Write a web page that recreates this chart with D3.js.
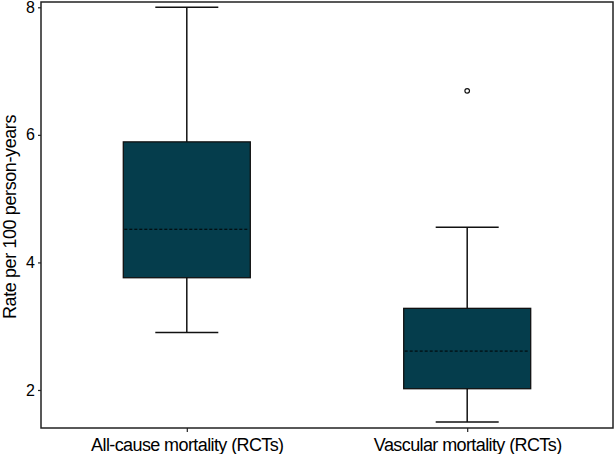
<!DOCTYPE html>
<style>
body { margin: 0; background: #fff; }
svg { font-family: "Liberation Sans", Arial, sans-serif; }
</style>
<svg width="615" height="454"></svg>
<script src="https://d3js.org/d3.v7.min.js"></script>
<script>

// data
var categories = ["All-cause mortality (RCTs)", "Vascular mortality (RCTs)"];
var whiskerLow  = [2.90, 1.50];
var quart1      = [3.76, 2.02];
var medians     = [4.52, 2.61];
var quart3      = [5.89, 3.28];
var whiskerHigh = [8.00, 4.55];
var outliers    = [[], [6.69]];
var yTicks      = [2, 4, 6, 8];

var svg = d3.select("svg"),
    plotLeft = 41, plotRight = 613, plotTop = 2, plotBottom = 428;

var x = d3.scalePoint()
    .domain(categories)
    .range([plotLeft, plotRight])
    .padding(0.52);

var y = d3.scaleLinear()
    .domain([1.404, 8.083])
    .range([plotBottom, plotTop]);

var boxW = 127, capW = 63;

var boxes = categories.map(function(c, i) {
  return { cat: c, lo: whiskerLow[i], q1: quart1[i], med: medians[i], q3: quart3[i], hi: whiskerHigh[i], out: outliers[i] };
});

var g = svg.selectAll("g.box")
  .data(boxes)
  .enter().append("g")
    .attr("class", "box")
    .attr("transform", function(d) { return "translate(" + x(d.cat) + ",0)"; });

// whisker stems
g.append("line")
    .attr("x1", 0).attr("x2", 0)
    .attr("y1", function(d) { return y(d.hi); })
    .attr("y2", function(d) { return y(d.lo); })
    .attr("stroke", "#111").attr("stroke-width", 1.5);

// caps
g.selectAll("line.cap")
  .data(function(d) { return [d.lo, d.hi]; })
  .enter().append("line")
    .attr("class", "cap")
    .attr("x1", -capW / 2).attr("x2", capW / 2)
    .attr("y1", function(v) { return y(v); })
    .attr("y2", function(v) { return y(v); })
    .attr("stroke", "#111").attr("stroke-width", 1.5);

g.append("rect")
    .attr("x", -boxW / 2)
    .attr("width", boxW)
    .attr("y", function(d) { return y(d.q3); })
    .attr("height", function(d) { return y(d.q1) - y(d.q3); })
    .attr("fill", "#053d4c")
    .attr("stroke", "#111")
    .attr("stroke-width", 1.3);

g.append("line")
    .attr("x1", -boxW / 2 + 1).attr("x2", boxW / 2 - 1)
    .attr("y1", function(d) { return y(d.med); })
    .attr("y2", function(d) { return y(d.med); })
    .attr("stroke", "#000").attr("stroke-width", 1)
    .attr("stroke-dasharray", "3,2");

g.selectAll("circle")
  .data(function(d) { return d.out; })
  .enter().append("circle")
    .attr("cx", 0)
    .attr("cy", function(v) { return y(v); })
    .attr("r", 2.3)
    .attr("fill", "#fff")
    .attr("stroke", "#111")
    .attr("stroke-width", 1.2);

// frame
svg.append("rect")
    .attr("x", plotLeft).attr("y", plotTop)
    .attr("width", plotRight - plotLeft).attr("height", plotBottom - plotTop)
    .attr("fill", "none")
    .attr("stroke", "#222")
    .attr("stroke-width", 1.5);

var yAxis = svg.append("g")
    .attr("transform", "translate(" + plotLeft + ",0)")
    .call(d3.axisLeft(y).tickValues(yTicks).tickFormat(d3.format("d")).tickSize(3).tickPadding(3));
yAxis.select(".domain").remove();
yAxis.selectAll("line").attr("stroke", "#222").attr("stroke-width", 1.2);
yAxis.selectAll("text").attr("font-size", 16).attr("fill", "#000").attr("font-family", "Liberation Sans, Arial, sans-serif");

var xAxis = svg.append("g")
    .attr("transform", "translate(0," + plotBottom + ")")
    .call(d3.axisBottom(x).tickSize(4).tickPadding(6));
xAxis.select(".domain").remove();
xAxis.selectAll("line").attr("stroke", "#222").attr("stroke-width", 1.2);
xAxis.selectAll("text")
    .attr("font-size", 18)
    .attr("letter-spacing", "-0.6px")
    .attr("fill", "#000")
    .attr("font-family", "Liberation Sans, Arial, sans-serif");

svg.append("text")
    .attr("transform", "translate(16," + 217 + ") rotate(-90)")
    .attr("text-anchor", "middle")
    .attr("font-size", 18)
    .attr("letter-spacing", "-0.4px")
    .attr("fill", "#000")
    .text("Rate per 100 person-years");

</script>
